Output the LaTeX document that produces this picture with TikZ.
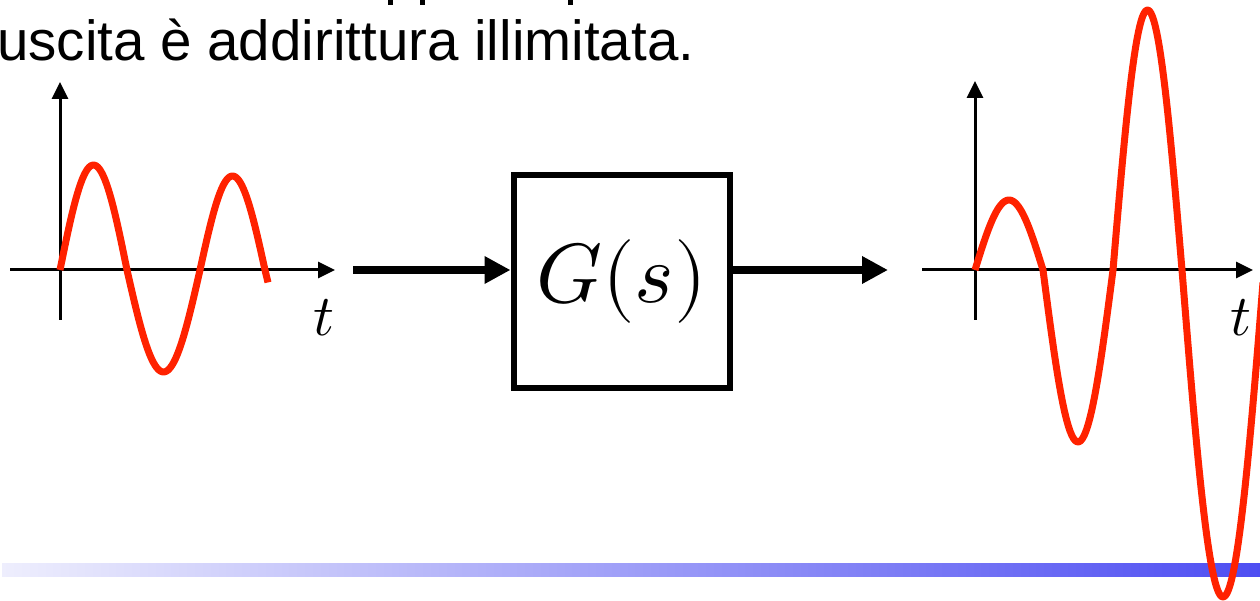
\documentclass[tikz,border=0pt]{standalone}
\usepackage{fontspec}
\usepackage{unicode-math}
\setmathfont{Latin Modern Math}
\newfontfamily\headfont{Liberation Sans}
\usetikzlibrary{arrows.meta}
\definecolor{wavered}{RGB}{255,34,0}
\definecolor{barleft}{RGB}{238,238,253}
\definecolor{barright}{RGB}{78,78,242}
\tikzset{
  axisline/.style={line width=3pt, -{Triangle[length=17pt,width=16pt]}},
  wave/.style={line width=7pt, wavered, line join=round},
  bigarrow/.style={line width=8pt, -{Triangle[length=26pt,width=26pt]}},
  blockbox/.style={draw, line width=6pt, minimum width=216pt, minimum height=212pt, inner sep=0pt,
     font=\fontsize{84}{90}\selectfont},
  tlabel/.style={font=\fontsize{58}{60}\selectfont, inner sep=0pt},
  headtext/.style={font=\headfont\fontsize{56.5}{60}\selectfont, inner sep=0pt, anchor=base west},
  stub/.style={fill=black, draw=none}
}
\begin{document}
\begin{tikzpicture}[x=1pt, y=-1pt]
\useasboundingbox (0,0) rectangle (1260,601);
% heading (cut-off) text
\node[headtext] (head) at (-3,61) {uscita è addirittura illimitata.};
\fill[stub] (388,0) rectangle (393,5);
\fill[stub] (420,0) rectangle (425,5);
\fill[stub] (568,0) rectangle (573,5);
% bottom gradient bar
\shade[left color=barleft, right color=barright] (2,563) rectangle (1260,576);
% ---- left plot ----
\coordinate (LxS) at (10,270);
\coordinate (LxE) at (335,270);
\coordinate (LyS) at (60,320);
\coordinate (LyE) at (60,82);
\draw[axisline] (LxS) -- (LxE);
\draw[axisline] (LyS) -- (LyE);
\node[tlabel] (tL) at (324,318) {$t$};
\draw[wave]
  plot[domain=60:127, samples=40] (\x,{270-105*sin(180*(\x-60)/67)})
  -- plot[domain=127:200, samples=40] (\x,{270+102*sin(180*(\x-127)/73)})
  -- plot[domain=200:265, samples=40] (\x,{270-94*sin(180*(\x-200)/65)})
  -- plot[domain=265:268, samples=4] (\x,{270+90*sin(180*(\x-265)/68)});
% ---- block ----
\node[blockbox] (G) at (621.5,281.5) {$G(s)$};
\coordinate (inS) at (353,270);
\coordinate (outE) at (888,270);
\draw[bigarrow] (inS) -- (G.west |- inS);
\draw[bigarrow] (G.east |- outE) -- (outE);
% ---- right plot ----
\coordinate (RxS) at (922,270);
\coordinate (RxE) at (1253,270);
\coordinate (RyS) at (975,320);
\coordinate (RyE) at (975,81);
\draw[axisline] (RxS) -- (RxE);
\draw[axisline] (RyS) -- (RyE);
\node[tlabel] (tR) at (1241,318) {$t$};
\draw[wave]
  plot[domain=975:1043, samples=40] (\x,{270-70*sin(180*(\x-975)/68)})
  -- plot[domain=1043:1113, samples=40] (\x,{270+172*sin(180*(\x-1043)/70)})
  -- plot[domain=1113:1182, samples=50] (\x,{270-260*sin(180*(\x-1113)/69)})
  -- plot[domain=1182:1263, samples=60] (\x,{270+327*sin(180*(\x-1182)/82)});
\end{tikzpicture}
\end{document}
